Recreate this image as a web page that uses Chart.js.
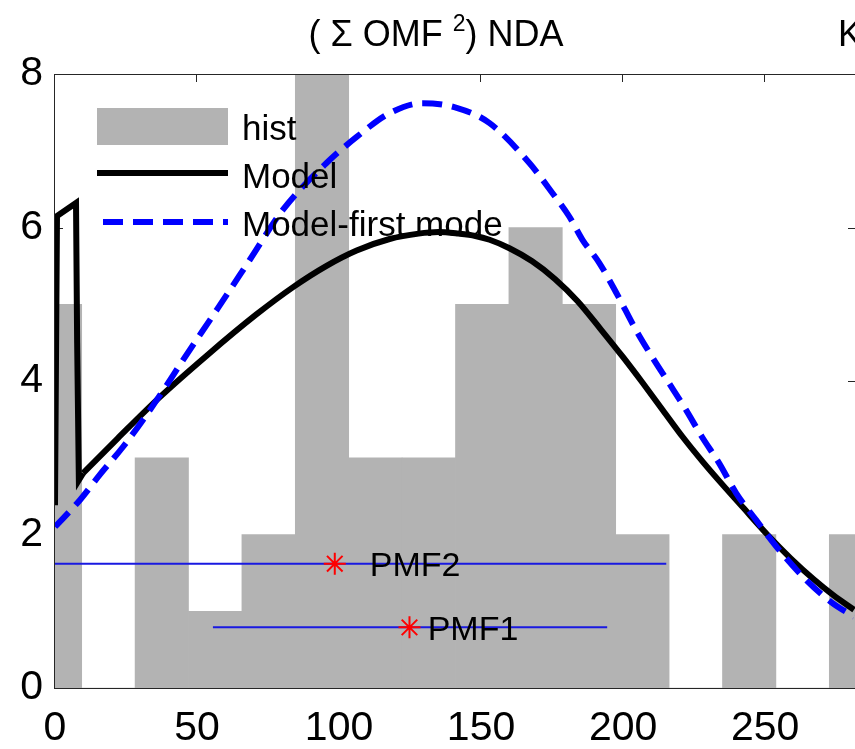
<!DOCTYPE html>
<html>
<head>
<meta charset="utf-8">
<script src="https://cdn.jsdelivr.net/npm/chart.js@4.4.0/dist/chart.umd.min.js"></script>
<style>
  html, body { margin: 0; padding: 0; background: #fff; overflow: hidden; }
  #wrap { width: 855px; height: 749px; overflow: hidden; position: relative; }
  canvas { display: block; }
</style>
</head>
<body>
<div id="wrap"><canvas id="chart" width="880" height="749"></canvas></div>
<script>
// histogram (bin centres and counts)
const histCenters = [0, 18.8, 37.6, 56.4, 75.2, 94.0, 112.8, 131.6, 150.4, 169.2, 188.0, 206.8, 225.6, 244.4, 263.2, 282.0];
const histCounts  = [5, 0, 3, 1, 2, 8, 3, 3, 5, 6, 5, 2, 0, 2, 0, 2];

// Model curve: the sharp spike near zero, then the smooth part
const modelSpikeX = [0, 0.7, 7.4, 7.8, 8.4, 9.9];
const modelSpikeY = [2.38, 6.15, 6.32, 4.5, 2.71, 2.80];
const modelX = [9.9, 22, 36.9, 53.4, 71.0, 83.7, 95.6, 106.2, 117.8, 128, 135, 142, 148, 153, 160, 168, 176, 184, 192,
                200, 207, 214, 221, 228, 235, 242, 251, 259, 267, 274, 281.3];
const modelY = [2.80, 3.25, 3.79, 4.33, 4.87, 5.22, 5.50, 5.70, 5.85, 5.92, 5.94, 5.92, 5.89, 5.84, 5.73, 5.56, 5.33, 5.04, 4.68,
                4.31, 3.97, 3.62, 3.27, 2.95, 2.65, 2.36, 1.99, 1.69, 1.42, 1.21, 1.02];

// Model-first mode curve
const firstX = [0, 8.8, 15.8, 23.9, 30.9, 39.4, 45.0, 57.0, 68.6, 80.2, 95.6, 106.2, 117.8, 129.4, 141.4, 153.0, 167.0,
                175.1, 181.1, 185.7, 191.6, 197.6, 204.6, 210.3, 216.2, 222.2, 227.8, 233.8, 239.8, 246.8, 254.9, 264.4, 273.6, 281.3];
const firstY = [2.10, 2.45, 2.78, 3.14, 3.49, 3.95, 4.27, 4.93, 5.58, 6.23, 6.84, 7.18, 7.49, 7.62, 7.56, 7.36, 6.84,
                6.45, 6.14, 5.84, 5.54, 5.15, 4.66, 4.31, 3.97, 3.62, 3.27, 2.93, 2.54, 2.19, 1.80, 1.41, 1.11, 0.93];

// PMF markers with their ranges
const pmfNames   = ['PMF2', 'PMF1'];
const pmfCenters = [98.5, 124.8];
const pmfLevels  = [1.62, 0.79];
const pmfLows    = [-18.2, 55.6];
const pmfHighs   = [215.2, 194.4];
const pmfLabelX  = [110.8, 131.2];

const xTickValues = [0, 50, 100, 150, 200, 250];
const yTickValues = [0, 2, 4, 6, 8];

const GRAY = 'rgb(179,179,179)';
const BLUE = 'rgb(0,0,255)';
const FONT = '"Liberation Sans", Arial, sans-serif';

const toPts = (xs, ys) => xs.map((v, i) => ({ x: v, y: ys[i] }));

const datasets = [
  {
    type: 'bar', label: 'hist', order: 10,
    data: toPts(histCenters, histCounts),
    backgroundColor: GRAY, borderWidth: 0,
    barPercentage: 1, categoryPercentage: 1
  },
  {
    type: 'line', label: 'Model', order: 3, clip: 0,
    data: toPts(modelSpikeX, modelSpikeY),
    borderColor: '#000', borderWidth: 6, pointRadius: 0, tension: 0,
    borderJoinStyle: 'miter'
  },
  {
    type: 'line', label: 'Model', order: 3, clip: 0,
    data: toPts(modelX, modelY),
    borderColor: '#000', borderWidth: 6, pointRadius: 0,
    cubicInterpolationMode: 'monotone'
  },
  {
    type: 'line', label: 'Model-first mode', order: 2, clip: 0,
    data: toPts(firstX, firstY),
    borderColor: BLUE, borderWidth: 6, borderDash: [20, 10], pointRadius: 0,
    cubicInterpolationMode: 'monotone'
  }
];
pmfNames.forEach((name, i) => {
  datasets.push({
    type: 'line', label: name + ' range', order: 5, clip: 0,
    data: [{ x: pmfLows[i], y: pmfLevels[i] }, { x: pmfHighs[i], y: pmfLevels[i] }],
    borderColor: 'rgb(25,25,225)', borderWidth: 2, pointRadius: 0
  });
  datasets.push({
    type: 'scatter', label: name, order: 1,
    data: [{ x: pmfCenters[i], y: pmfLevels[i] }],
    pointStyle: 'star', pointRadius: 11, borderColor: 'rgb(255,0,0)', borderWidth: 2,
    backgroundColor: 'rgb(255,0,0)'
  });
});

const frame = {
  id: 'frame',
  beforeDatasetsDraw(chart) {
    const { ctx, chartArea: a, scales: { x, y } } = chart;
    ctx.save();
    ctx.strokeStyle = '#262626';
    ctx.lineWidth = 1;
    ctx.beginPath();
    xTickValues.forEach(v => {
      const px = Math.round(x.getPixelForValue(v)) - 0.5;
      ctx.moveTo(px, a.bottom); ctx.lineTo(px, a.bottom - 8);
      ctx.moveTo(px, a.top); ctx.lineTo(px, a.top + 8);
    });
    yTickValues.forEach(v => {
      const py = Math.round(y.getPixelForValue(v)) + 0.5;
      ctx.moveTo(a.left, py); ctx.lineTo(a.left + 8, py);
      ctx.moveTo(a.right, py); ctx.lineTo(a.right - 8, py);
    });
    ctx.stroke();
    ctx.restore();
  },
  afterDatasetsDraw(chart) {
    const { ctx, chartArea: a, scales: { x, y } } = chart;
    ctx.save();
    // axes box
    ctx.strokeStyle = '#262626';
    ctx.lineWidth = 1;
    ctx.strokeRect(a.left - 0.5, a.top + 0.5, a.right - a.left + 1, a.bottom - a.top);

    // PMF labels
    ctx.fillStyle = '#000';
    ctx.font = '34px ' + FONT;
    ctx.textBaseline = 'middle';
    ctx.textAlign = 'left';
    pmfNames.forEach((name, i) => {
      ctx.fillText(name, x.getPixelForValue(pmfLabelX[i]), y.getPixelForValue(pmfLevels[i]) + 3);
    });

    // legend
    ctx.fillStyle = GRAY;
    ctx.fillRect(97, 108, 131, 37);
    ctx.strokeStyle = '#000';
    ctx.lineWidth = 6;
    ctx.beginPath(); ctx.moveTo(97, 173); ctx.lineTo(228, 173); ctx.stroke();
    ctx.strokeStyle = BLUE;
    ctx.setLineDash([20, 10]);
    ctx.beginPath(); ctx.moveTo(103, 222); ctx.lineTo(228, 222); ctx.stroke();
    ctx.setLineDash([]);
    ctx.fillStyle = '#000';
    ctx.font = '35px ' + FONT;
    ctx.fillText('hist', 242, 130);
    ctx.fillText('Model', 242, 178);
    ctx.fillText('Model-first mode', 242, 226);
    ctx.restore();
  },
  afterDraw(chart) {
    const { ctx } = chart;
    ctx.save();
    ctx.fillStyle = '#000';
    ctx.textBaseline = 'alphabetic';
    ctx.textAlign = 'left';
    const big = '36px ' + FONT, small = '23px ' + FONT;
    const parts = [['( ', big, 0], ['\u03A3', big, 0], [' OMF ', big, 0], ['2', small, -15], [')', big, 0], [' NDA', big, 0]];
    let total = 0;
    parts.forEach(p => { ctx.font = p[1]; total += ctx.measureText(p[0]).width; });
    let cx = 436 - total / 2;
    parts.forEach(p => {
      ctx.font = p[1];
      ctx.fillText(p[0], cx, 46 + p[2]);
      cx += ctx.measureText(p[0]).width;
    });
    ctx.font = big;
    ctx.fillText('K', 838, 46);
    ctx.restore();
  }
};

new Chart(document.getElementById('chart'), {
  data: { datasets },
  options: {
    responsive: false,
    animation: false,
    devicePixelRatio: 1,
    layout: { padding: { top: 74, right: 24, left: 0, bottom: 0 } },
    plugins: { legend: { display: false }, tooltip: { enabled: false }, title: { display: false } },
    scales: {
      x: {
        type: 'linear', min: 0, max: 282, offset: false,
        grid: { display: false, drawTicks: false },
        border: { display: false },
        afterBuildTicks: s => { s.ticks = xTickValues.map(v => ({ value: v })); },
        afterFit: s => { s.height = 61; },
        ticks: { color: '#000', padding: 16, font: { size: 41, family: FONT } }
      },
      y: {
        type: 'linear', min: 0, max: 8,
        grid: { display: false, drawTicks: false },
        border: { display: false },
        afterBuildTicks: s => { s.ticks = yTickValues.map(v => ({ value: v })); },
        afterFit: s => { s.width = 55; },
        ticks: { color: '#000', padding: 12, font: { size: 41, family: FONT } }
      }
    }
  },
  plugins: [frame]
});
</script>
</body>
</html>
